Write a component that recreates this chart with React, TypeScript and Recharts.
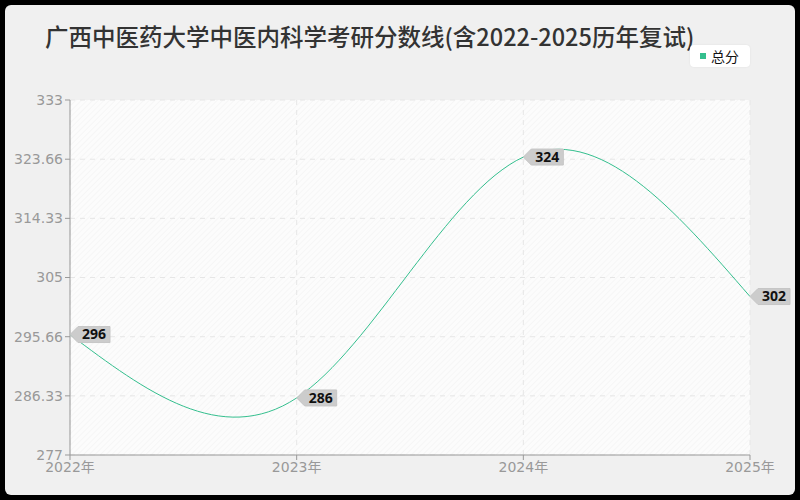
import React from "react";
import { LineChart, Line, XAxis, YAxis, CartesianGrid, LabelList } from "recharts";

const years = ["2022年", "2023年", "2024年", "2025年"];
const totalScores = [296, 286, 324, 302];
const yTicks = [277, 286.33, 295.66, 305, 314.33, 323.66, 333];

const data = years.map((y, i) => ({ year: y, total: totalScores[i] }));

const LINE_COLOR = "#34bf8e";
const FONT = "'Noto Sans CJK SC', 'Noto Sans', sans-serif";
const TICK_FONT = "'DejaVu Sans', 'Noto Sans CJK SC', sans-serif";

const PointLabel = (props: any) => {
  const { x, y, value } = props;
  if (x == null || y == null) return null;
  const w = 32;
  const h = 16;
  const a = 8;
  const d = `M${x},${y} L${x + a},${y - h / 2} L${x + a + w},${y - h / 2} L${x + a + w},${y + h / 2} L${x + a},${y + h / 2} Z`;
  return (
    <g>
      <path d={d} fill="#cccccc" stroke="#c6c6c6" strokeWidth={1} />
      <text
        x={x + a + w / 2}
        y={y + 1}
        textAnchor="middle"
        dominantBaseline="middle"
        fontSize={14}
        fontWeight="bold"
        fill="#111"
        fontFamily="'Noto Sans', 'Noto Sans CJK SC', sans-serif"
      >
        {value}
      </text>
    </g>
  );
};

export default function App() {
  return (
    <div style={{ position: "absolute", left: 0, top: 0, width: 800, height: 500, background: "#000" }}>
      <svg width={0} height={0} style={{ position: "absolute" }}>
        <defs>
          <pattern id="hatch" width="4" height="4" patternUnits="userSpaceOnUse" patternTransform="rotate(45)">
            <rect width="4" height="4" fill="#fcfcfc" />
            <line x1="0" y1="0" x2="0" y2="4" stroke="#f2f2f2" strokeWidth="1.2" />
          </pattern>
        </defs>
      </svg>
      <div
        style={{
          position: "absolute",
          left: 5,
          top: 5,
          width: 790,
          height: 490,
          background: "#f0f0f0",
          borderRadius: 6,
        }}
      />
      <div
        style={{
          position: "absolute",
          left: 45,
          top: 19,
          fontFamily: FONT,
          fontSize: 23.5,
          fontWeight: 500,
          color: "#333",
          whiteSpace: "nowrap",
          lineHeight: "34px",
        }}
      >
        广西中医药大学中医内科学考研分数线(含2022-2025历年复试)
      </div>
      <div
        style={{
          position: "absolute",
          left: 690,
          top: 45,
          width: 60,
          height: 22,
          background: "#fff",
          borderRadius: 4,
          display: "flex",
          alignItems: "center",
          boxShadow: "0 0 2px rgba(0,0,0,0.08)",
          fontFamily: FONT,
          fontSize: 14,
          color: "#111",
        }}
      >
        <span style={{ display: "inline-block", width: 6, height: 6, background: LINE_COLOR, marginLeft: 10, marginRight: 5 }} />
        <span>总分</span>
      </div>
      <div style={{ position: "absolute", left: 0, top: 0 }}>
        <LineChart width={800} height={500} data={data} margin={{ top: 100, right: 50, bottom: 20, left: 0 }}>
          <CartesianGrid
            strokeDasharray="5 5"
            stroke="#e6e6e6"
            fill="url(#hatch)"
            fillOpacity={1}
            horizontalValues={yTicks}
          />
          <XAxis
            dataKey="year"
            padding={{ left: 0, right: 0 }}
            tick={{ fill: "#999", fontSize: 14, fontFamily: TICK_FONT }}
            tickLine={{ stroke: "#999" }}
            axisLine={{ stroke: "#999" }}
            tickSize={5}
            height={25}
            interval={0}
          />
          <YAxis
            type="number"
            domain={[277, 333]}
            ticks={yTicks}
            interval={0}
            width={70}
            tick={{ fill: "#999", fontSize: 14, fontFamily: TICK_FONT }}
            tickLine={{ stroke: "#999" }}
            axisLine={{ stroke: "#999" }}
            tickSize={5}
            allowDataOverflow
          />
          <Line
            type="natural"
            dataKey="total"
            stroke={LINE_COLOR}
            strokeWidth={1}
            dot={false}
            activeDot={false}
            isAnimationActive={false}
          >
            <LabelList dataKey="total" content={<PointLabel />} />
          </Line>
        </LineChart>
      </div>
    </div>
  );
}
